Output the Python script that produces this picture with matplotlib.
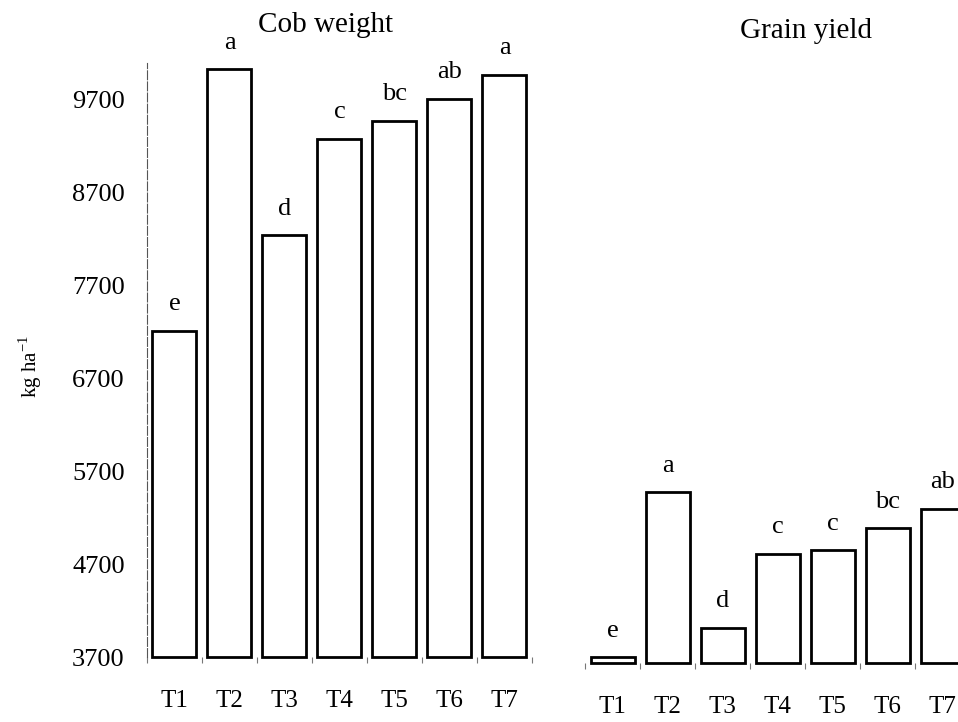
import numpy as np
from matplotlib import pyplot as plt

# Treatments and values (kg ha-1)
treatments = ["T1", "T2", "T3", "T4", "T5", "T6", "T7"]
cob_weight = [7210, 10025, 8235, 9277, 9468, 9708, 9966]
cob_letters = ["e", "a", "d", "c", "bc", "ab", "a"]
grain_yield = [3761, 5535, 4080, 4875, 4915, 5148, 5359]
grain_letters = ["e", "a", "d", "c", "c", "bc", "ab"]
y_ticks = [3700, 4700, 5700, 6700, 7700, 8700, 9700]

base = 3700
y_top = 10090
serif = "Liberation Serif"
plt.rcParams["font.family"] = serif

fig = plt.figure(figsize=(9.58, 7.22), dpi=100)
ax_cob = fig.add_axes([0.1534, 0.0900, 0.4019, 0.8227])
ax_grain = fig.add_axes([0.6107, 0.0817, 0.4019, 0.8227])

x = np.arange(len(treatments))


def draw_panel(ax, values, letters, title, title_x):
    heights = [v - base for v in values]
    bars = ax.bar(x, heights, bottom=base, width=0.8, color="white",
                  edgecolor="black", linewidth=2.0, clip_on=False)
    for bar, letter in zip(bars, letters):
        ax.annotate(letter, (bar.get_x() + bar.get_width() / 2,
                             bar.get_y() + bar.get_height()),
                    xytext=(0, 19), textcoords="offset points",
                    ha="center", va="center", fontsize=19, family=serif,
                    annotation_clip=False)
    ax.set_xlim(-0.5, len(treatments) - 0.5)
    ax.set_ylim(base, y_top)
    # category labels without marks, small marks between categories
    ax.set_xticks(x)
    ax.set_xticklabels(treatments, fontsize=18)
    ax.set_xticks(np.arange(-0.5, len(treatments)), minor=True)
    ax.tick_params(axis="x", which="major", length=0, pad=24)
    ax.tick_params(axis="x", which="minor", length=4, width=0.8,
                   color="#777777", direction="out")
    for side in ["top", "right", "bottom"]:
        ax.spines[side].set_visible(False)
    ax.set_title(title, fontsize=21, x=title_x, pad=22)


draw_panel(ax_cob, cob_weight, cob_letters, "Cob weight", 0.465)
draw_panel(ax_grain, grain_yield, grain_letters, "Grain yield", 0.574)

# left panel: dashed thin y axis with tick values
ax_cob.spines["left"].set_linestyle((0, (8, 2)))
ax_cob.spines["left"].set_color("#555555")
ax_cob.spines["left"].set_linewidth(0.8)
ax_cob.set_yticks(y_ticks)
ax_cob.set_yticklabels([str(t) for t in y_ticks], fontsize=19)
ax_cob.tick_params(axis="y", length=0, pad=16)

# right panel shares the scale but shows no y axis
ax_grain.spines["left"].set_visible(False)
ax_grain.set_yticks([])

fig.text(30 / 958, 1 - 367 / 722, r"kg ha$^{\mathregular{-1}}$",
         rotation=90, ha="center", va="center", fontsize=15)

plt.savefig("out.png", dpi=100)
